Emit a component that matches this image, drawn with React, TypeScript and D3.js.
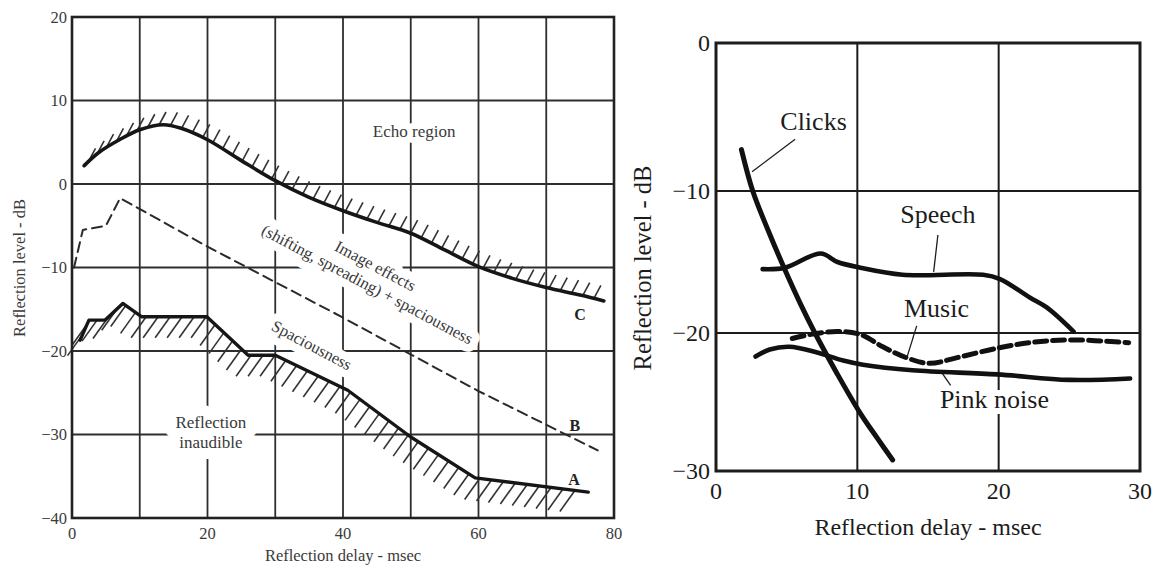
import React, { useRef, useEffect } from 'react';
import * as d3 from 'd3';

// ---- left panel: reflection thresholds (delay msec, level dB) ----
const leftXTicks = [0, 20, 40, 60, 80];
const leftXGrid = [10, 20, 30, 40, 50, 60, 70];
const leftYTicks = [20, 10, 0, -10, -20, -30, -40];
const curveC: [number, number][] = [
  [1.8, 2.2], [4, 3.8], [7, 5.3], [10, 6.5], [13.5, 7.1], [16, 6.7], [20, 5.3], [25, 2.8],
  [30, 0.4], [35, -1.6], [40, -3.2], [45, -4.6], [50, -5.9], [55, -7.9], [60, -9.9],
  [65, -11.3], [70, -12.4], [75, -13.3], [78.5, -14],
];
const curveB: [number, number][] = [
  [0.3, -10], [1.6, -5.5], [5, -5], [7.1, -1.7], [20, -7.5], [40, -16], [60, -24.8], [77.6, -31.9],
];
const curveA: [number, number][] = [
  [1.2, -18.7], [2.5, -16.3], [4.9, -16.3], [7.5, -14.3], [10.3, -15.9], [19.9, -15.9],
  [26, -20.5], [30, -20.5], [40.7, -24.7], [50, -30.3], [59.5, -35.2], [76.2, -36.9],
];

// ---- right panel: echo thresholds by signal type ----
const rightXTicks = [0, 10, 20, 30];
const rightYTicks = [0, -10, -20, -30];
const clicks: [number, number][] = [
  [1.8, -7.2], [2.6, -10], [3.7, -12.8], [4.9, -15.6], [6, -18], [7, -20], [8.6, -23],
  [10.2, -25.8], [11.4, -27.6], [12.5, -29.2],
];
const speech: [number, number][] = [
  [3.3, -15.5], [4.9, -15.4], [7.4, -14.4], [8.6, -15], [10.2, -15.4], [13.2, -15.9],
  [18.9, -15.9], [20.1, -16.2], [22.2, -17.5], [23.4, -18.2], [25.3, -19.9],
];
const music: [number, number][] = [
  [5.4, -20.4], [6.7, -20.1], [8.6, -19.9], [10.2, -20.1], [11.8, -21], [13.5, -21.8],
  [15.1, -22.2], [17, -21.8], [19.9, -21.1], [22.2, -20.7], [25, -20.5], [29.2, -20.7],
];
const pinkNoise: [number, number][] = [
  [2.8, -21.7], [3.8, -21.2], [5.2, -21], [7.1, -21.4], [9, -22], [10.4, -22.3],
  [13.9, -22.7], [19.9, -23], [25, -23.4], [29.3, -23.3],
];

const FONT = '"Liberation Serif", "Times New Roman", serif';
const fmt = (d: number) => (d < 0 ? '\u2212' + Math.abs(d) : String(d));

const App = () => {
  const ref = useRef<SVGSVGElement>(null);

  useEffect(() => {
    const svg = d3.select(ref.current);
    svg.selectAll('*').remove();

    const drawLine = (g: any, data: [number, number][], x: any, y: any, curve: any, color: string, width: number, dash?: string) =>
      g.append('path')
        .datum(data)
        .attr('fill', 'none')
        .attr('stroke', color)
        .attr('stroke-width', width)
        .attr('stroke-linecap', 'round')
        .attr('stroke-linejoin', 'round')
        .attr('stroke-dasharray', dash || null)
        .attr('d', d3.line<[number, number]>().x(d => x(d[0])).y(d => y(d[1])).curve(curve));

    // short diagonal ticks along a path (the shaded side of a threshold)
    const hatch = (g: any, node: SVGPathElement, step: number, dx: number, dy: number, color: string) => {
      const len = node.getTotalLength();
      for (let s = 6; s <= len - 4; s += step) {
        const p = node.getPointAtLength(s);
        g.append('line')
          .attr('x1', p.x).attr('y1', p.y)
          .attr('x2', p.x + dx).attr('y2', p.y + dy)
          .attr('stroke', color).attr('stroke-width', 1.6);
      }
    };

    const text = (g: any, x: number, y: number, t: string, size: number, rotate = 0) =>
      g.append('text')
        .attr('transform', `translate(${x},${y}) rotate(${rotate})`)
        .attr('text-anchor', 'middle')
        .attr('font-family', FONT)
        .attr('font-size', size)
        .text(t);

    // ================= LEFT PANEL =================
    const lx = d3.scaleLinear().domain([0, 80]).range([72, 614]);
    const ly = d3.scaleLinear().domain([-40, 20]).range([518, 17]);
    const L = svg.append('g');
    const lGrid = '#2e2e2e';
    const lText = '#3a3a3a';

    L.append('g').selectAll('line').data(leftXGrid).enter().append('line')
      .attr('x1', d => lx(d)).attr('x2', d => lx(d)).attr('y1', ly(20)).attr('y2', ly(-40))
      .attr('stroke', lGrid).attr('stroke-width', 1.8);
    L.append('g').selectAll('line').data(leftYTicks.slice(1, -1)).enter().append('line')
      .attr('x1', lx(0)).attr('x2', lx(80)).attr('y1', d => ly(d)).attr('y2', d => ly(d))
      .attr('stroke', lGrid).attr('stroke-width', 1.8);

    // region labels: white knock-outs first (open the grid), then the words
    const lHalo = L.append('g');
    const lWords = L.append('g');
    const regionLabels: [string, number, number, number, number, number][] = [
      ['Echo region', 50.5, 5.6, 17, 12, 0],
      ['Image effects', 44.4, -10.4, 16.5, 16, 28],
      ['(shifting, spreading) + spaciousness', 43.2, -12.6, 16.5, 16, 28],
      ['Spaciousness', 35, -19.9, 16.5, 16, 28],
      ['Reflection', 20.5, -29.2, 17, 22, 0],
      ['inaudible', 20.5, -31.6, 17, 22, 0],
    ];
    regionLabels.forEach(([t, x, y, size, halo, rot]) => {
      text(lHalo, lx(x), ly(y), t, size, rot)
        .attr('fill', '#fff').attr('stroke', '#fff').attr('stroke-width', halo).attr('stroke-linejoin', 'round');
      text(lWords, lx(x), ly(y), t, size, rot).attr('fill', lText);
    });

    const cPath = drawLine(L, curveC, lx, ly, d3.curveCatmullRom, '#161616', 3.6);
    hatch(L, cPath.node(), 11.5, 7, -13, '#333');
    const aPath = drawLine(L, curveA, lx, ly, d3.curveLinear, '#161616', 3.4);
    hatch(L, aPath.node(), 12, -15, 21, '#333');
    cPath.raise();
    aPath.raise();
    drawLine(L, curveB, lx, ly, d3.curveLinear, '#2a2a2a', 2, '10,6');

    [['A', 74.1, -36], ['B', 74.2, -29.6], ['C', 75, -16.3]].forEach(([t, x, y]) =>
      text(L, lx(x as number), ly(y as number), t as string, 16).attr('fill', '#222').attr('font-weight', 'bold'));

    L.append('rect')
      .attr('x', lx(0)).attr('y', ly(20)).attr('width', lx(80) - lx(0)).attr('height', ly(-40) - ly(20))
      .attr('fill', 'none').attr('stroke', '#222').attr('stroke-width', 2.6);

    L.append('g').selectAll('text').data(leftYTicks).enter().append('text')
      .attr('x', lx(0) - 5).attr('y', d => ly(d)).attr('dy', '0.35em')
      .attr('text-anchor', 'end').attr('font-family', FONT).attr('font-size', 16.5).attr('fill', lText)
      .text(d => fmt(d));
    L.append('g').selectAll('text').data(leftXTicks).enter().append('text')
      .attr('x', d => lx(d)).attr('y', ly(-40) + 21)
      .attr('text-anchor', 'middle').attr('font-family', FONT).attr('font-size', 16.5).attr('fill', lText)
      .text(d => fmt(d));
    text(L, 343, 561, 'Reflection delay - msec', 16.5).attr('fill', lText);
    text(L, 25, 268, 'Reflection level - dB', 16.5, -90).attr('fill', lText);

    // ================= RIGHT PANEL =================
    const rx = d3.scaleLinear().domain([0, 30]).range([716, 1140]);
    const ry = d3.scaleLinear().domain([0, -10, -20, -30]).range([43, 191, 333, 471]);
    const R = svg.append('g');
    const rInk = '#1c1c1c';

    R.append('g').selectAll('line').data(rightXTicks.slice(1, -1)).enter().append('line')
      .attr('x1', d => rx(d)).attr('x2', d => rx(d)).attr('y1', ry(0)).attr('y2', ry(-30))
      .attr('stroke', rInk).attr('stroke-width', 2);
    R.append('g').selectAll('line').data(rightYTicks.slice(1, -1)).enter().append('line')
      .attr('x1', rx(0)).attr('x2', rx(30)).attr('y1', d => ry(d)).attr('y2', d => ry(d))
      .attr('stroke', rInk).attr('stroke-width', 2);

    // series labels with leader lines
    const leaders: [string, number, number, [number, number], [number, number]][] = [
      ['Clicks', 6.9, -5.9, [5.6, -6.5], [2.55, -8.7]],
      ['Speech', 15.7, -12.25, [15.7, -13.1], [15.4, -15.7]],
      ['Music', 15.6, -18.9, [14.2, -19.5], [13.5, -21.8]],
      ['Pink noise', 19.7, -25.4, [16.6, -23.8], [16, -22.9]],
    ];
    leaders.forEach(([t, x, y]) =>
      text(R, rx(x), ry(y), t, 26).attr('fill', '#fff').attr('stroke', '#fff').attr('stroke-width', 12).attr('stroke-linejoin', 'round'));
    leaders.forEach(([t, x, y, a, b]) => {
      R.append('line')
        .attr('x1', rx(a[0])).attr('y1', ry(a[1])).attr('x2', rx(b[0])).attr('y2', ry(b[1]))
        .attr('stroke', rInk).attr('stroke-width', 1.3);
      text(R, rx(x), ry(y), t, 26).attr('fill', rInk);
    });

    drawLine(R, pinkNoise, rx, ry, d3.curveCatmullRom, '#111', 4.6);
    drawLine(R, music, rx, ry, d3.curveCatmullRom, '#111', 5, '12,6');
    drawLine(R, speech, rx, ry, d3.curveCatmullRom, '#111', 4.6);
    drawLine(R, clicks, rx, ry, d3.curveCatmullRom, '#111', 5);

    R.append('rect')
      .attr('x', rx(0)).attr('y', ry(0)).attr('width', rx(30) - rx(0)).attr('height', ry(-30) - ry(0))
      .attr('fill', 'none').attr('stroke', rInk).attr('stroke-width', 3);

    R.append('g').selectAll('text').data(rightYTicks).enter().append('text')
      .attr('x', rx(0) - 6).attr('y', d => ry(d)).attr('dy', '0.35em')
      .attr('text-anchor', 'end').attr('font-family', FONT).attr('font-size', 24).attr('fill', rInk)
      .text(d => fmt(d));
    R.append('g').selectAll('text').data(rightXTicks).enter().append('text')
      .attr('x', d => rx(d)).attr('y', ry(-30) + 28)
      .attr('text-anchor', 'middle').attr('font-family', FONT).attr('font-size', 24).attr('fill', rInk)
      .text(d => fmt(d));
    text(R, 928, 535, 'Reflection delay - msec', 24).attr('fill', rInk);
    text(R, 651, 268, 'Reflection level - dB', 24.5, -90).attr('fill', rInk);
  }, []);

  return (
    <svg
      ref={ref}
      width={1166}
      height={565}
      style={{ position: 'absolute', left: 0, top: 0, background: '#fff', display: 'block' }}
    />
  );
};

export default App;
